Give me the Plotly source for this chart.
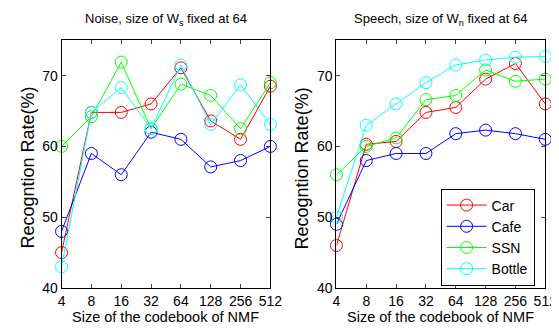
import plotly.graph_objects as go

codebook = ["4", "8", "16", "32", "64", "128", "256", "512"]
series_names = ["Car", "Cafe", "SSN", "Bottle"]
colors = ["#ff0000", "#0000ff", "#00ff00", "#00ffff"]

noise_car = [45.0, 64.8, 64.8, 66.0, 71.1, 63.6, 61.0, 68.5]
noise_cafe = [48.0, 59.0, 56.0, 62.0, 61.0, 57.1, 58.0, 60.0]
noise_ssn = [60.0, 64.2, 71.9, 62.5, 68.8, 67.2, 62.5, 69.0]
noise_bottle = [43.0, 64.8, 68.3, 62.5, 71.5, 63.1, 68.7, 63.1]

speech_car = [46.0, 60.3, 60.7, 64.8, 65.5, 69.5, 71.7, 66.0]
speech_cafe = [49.0, 58.0, 59.0, 59.0, 61.8, 62.3, 61.8, 61.0]
speech_ssn = [56.0, 60.0, 61.2, 66.6, 67.2, 70.8, 69.2, 69.5]
speech_bottle = [50.0, 63.0, 66.0, 69.0, 71.5, 72.2, 72.6, 72.7]

noise = [noise_car, noise_cafe, noise_ssn, noise_bottle]
speech = [speech_car, speech_cafe, speech_ssn, speech_bottle]

W, H = 559, 329
FONT = "Liberation Sans, Arial, Helvetica, sans-serif"
TICK = 14

fig = go.Figure()
xs = list(range(len(codebook)))
for vals, name, col in zip(noise, series_names, colors):
    fig.add_trace(go.Scatter(x=xs, y=vals, mode="lines+markers", name=name,
                             line=dict(color=col, width=1),
                             marker=dict(symbol="circle-open", size=12, color=col, line=dict(width=1)),
                             cliponaxis=False, showlegend=False, xaxis="x", yaxis="y"))
for vals, name, col in zip(speech, series_names, colors):
    fig.add_trace(go.Scatter(x=xs, y=vals, mode="lines+markers", name=name,
                             line=dict(color=col, width=1),
                             marker=dict(symbol="circle-open", size=12, color=col, line=dict(width=1)),
                             cliponaxis=False, showlegend=True, xaxis="x2", yaxis="y2"))

ydom = [1 - 287 / H, 1 - 33 / H]
xcommon = dict(range=[0, 7], tickvals=xs, ticktext=codebook, ticks="inside", ticklen=4,
               mirror="ticks", showline=True, linecolor="black", linewidth=1,
               showgrid=False, zeroline=False, tickfont=dict(size=TICK, color="black"))
ycommon = dict(range=[40, 75], tickvals=[40, 50, 60, 70], ticks="inside", ticklen=4,
               mirror="ticks", showline=True, linecolor="black", linewidth=1,
               showgrid=False, zeroline=False, tickfont=dict(size=TICK, color="black"))

ann = []
for xc, yt, title in [((51 + 266) / 2, 16, "Noise, size of W<sub>s</sub> fixed at 64"),
                      ((334 + 549) / 2, 299, "Speech, size of W<sub>n</sub> fixed at 64")]:
    ann.append(dict(text=title, x=xc / W, y=1 - 12 / H, xref="paper", yref="paper", showarrow=False,
                    font=dict(size=13, color="black"), xanchor="center", yanchor="middle"))
    ann.append(dict(text="Size of the codebook of NMF", x=xc / W, y=1 - 317 / H, xref="paper", yref="paper",
                    showarrow=False, font=dict(size=14.5, color="black"), xanchor="center", yanchor="middle"))
    ann.append(dict(text="Recogntion Rate(%)", x=yt / W, y=1 - 164 / H, xref="paper", yref="paper",
                    showarrow=False, textangle=-90, font=dict(size=18, color="black"),
                    xanchor="center", yanchor="middle"))

fig.update_layout(
    width=W, height=H, margin=dict(l=0, r=0, t=0, b=0),
    paper_bgcolor="white", plot_bgcolor="white",
    font=dict(family=FONT, color="black"),
    xaxis=dict(domain=[51 / W, 266 / W], anchor="y", **xcommon),
    yaxis=dict(domain=ydom, anchor="x", **ycommon),
    xaxis2=dict(domain=[334 / W, 549 / W], anchor="y2", **xcommon),
    yaxis2=dict(domain=ydom, anchor="x2", **ycommon),
    legend=dict(x=538 / W, xanchor="right", y=1 - 185 / H, yanchor="top",
                bordercolor="black", borderwidth=1, bgcolor="white",
                font=dict(size=14, color="black"), tracegroupgap=0, itemwidth=40),
    annotations=ann,
)

fig.write_html("out.html")
